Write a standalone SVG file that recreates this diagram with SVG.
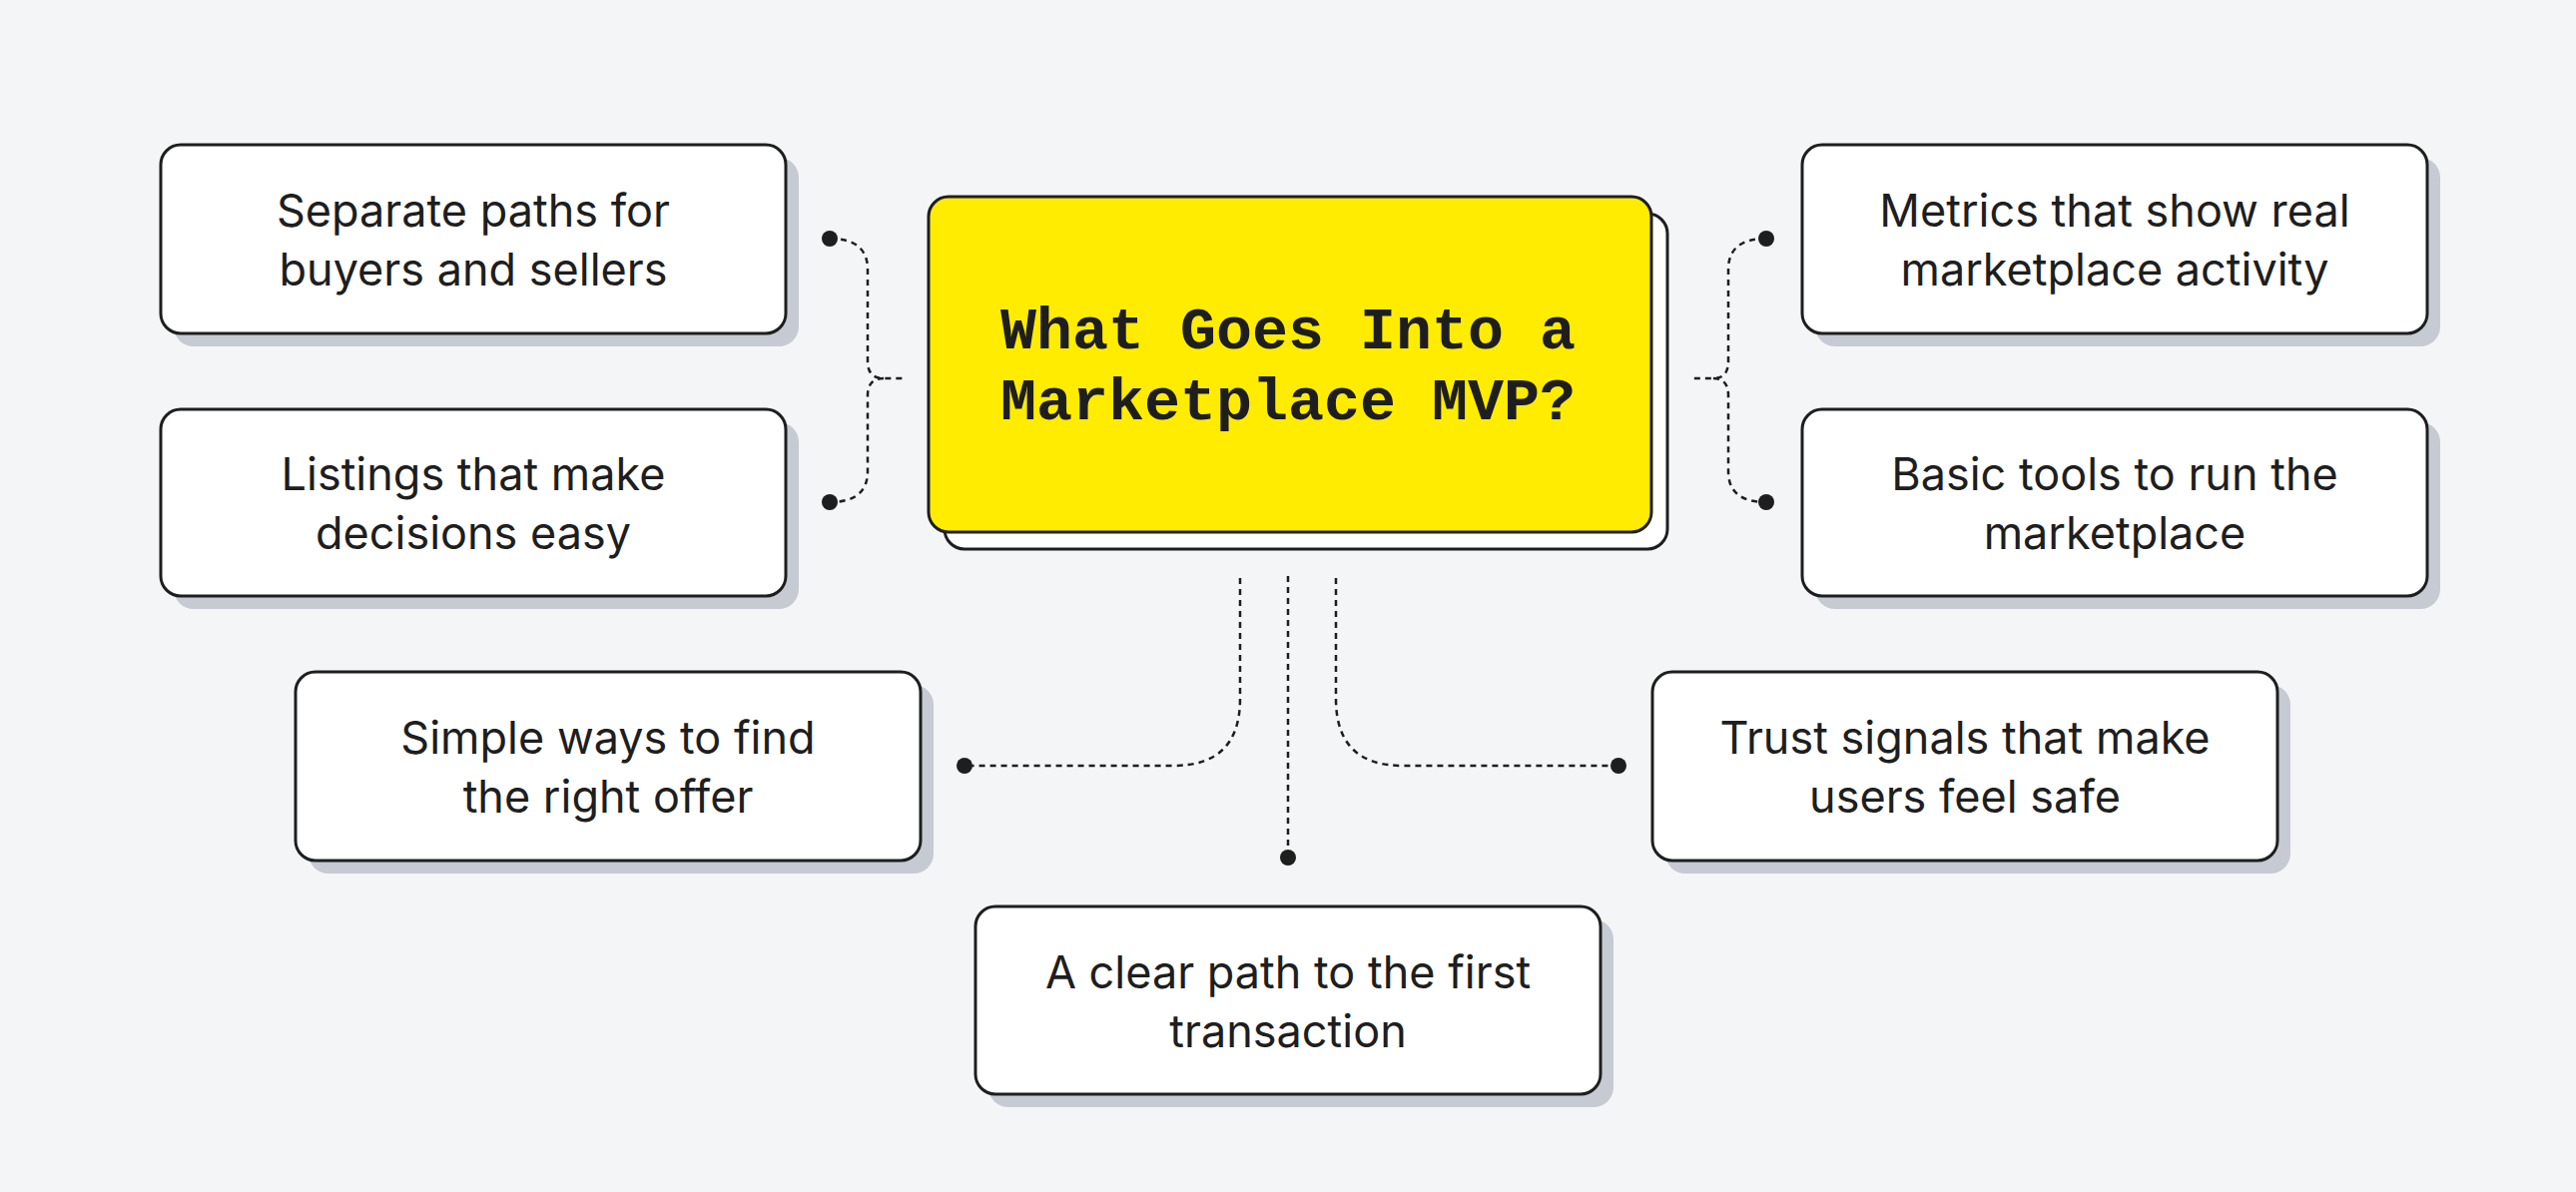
<svg xmlns="http://www.w3.org/2000/svg" width="2580" height="1194" viewBox="0 0 2580 1194">
<style>
.sh{fill:#c5cad3}
.bx{fill:#fff;stroke:#1e1e1e;stroke-width:3}
.t{font-family:Inter,"Liberation Sans",sans-serif;font-size:45px;fill:#1e1e1e;text-anchor:middle}
.ti{font-family:"Liberation Mono","DejaVu Sans Mono",monospace;font-weight:bold;font-size:60px;fill:#1e1e1e;text-anchor:middle}
.c{fill:none;stroke:#1e1e1e;stroke-width:2.5;stroke-dasharray:6 5}
.d{fill:#1e1e1e}
</style>
<rect width="2580" height="1194" fill="#f4f5f7"/>
<g id="center">
<rect x="946" y="214" width="724" height="336" rx="20" class="bx"/>
<rect x="930" y="197" width="724" height="336" rx="20" fill="#ffec00" stroke="#1e1e1e" stroke-width="3"/>
<text class="ti" x="1290" y="349">What Goes Into a</text>
<text class="ti" x="1290" y="420">Marketplace MVP?</text>
</g>
<g id="n1"><rect x="174" y="158" width="626" height="189" rx="20" class="sh"/><rect x="161" y="145" width="626" height="189" rx="20" class="bx"/>
<text class="t" x="474" y="227">Separate paths for</text><text class="t" x="474" y="286">buyers and sellers</text></g>
<g id="n2"><rect x="174" y="423" width="626" height="187" rx="20" class="sh"/><rect x="161" y="410" width="626" height="187" rx="20" class="bx"/>
<text class="t" x="474" y="491">Listings that make</text><text class="t" x="474" y="550">decisions easy</text></g>
<g id="n3"><rect x="1818" y="158" width="626" height="189" rx="20" class="sh"/><rect x="1805" y="145" width="626" height="189" rx="20" class="bx"/>
<text class="t" x="2118" y="227">Metrics that show real</text><text class="t" x="2118" y="286">marketplace activity</text></g>
<g id="n4"><rect x="1818" y="423" width="626" height="187" rx="20" class="sh"/><rect x="1805" y="410" width="626" height="187" rx="20" class="bx"/>
<text class="t" x="2118" y="491">Basic tools to run the</text><text class="t" x="2118" y="550">marketplace</text></g>
<g id="n5"><rect x="309" y="686" width="626" height="189" rx="20" class="sh"/><rect x="296" y="673" width="626" height="189" rx="20" class="bx"/>
<text class="t" x="609" y="755">Simple ways to find</text><text class="t" x="609" y="814">the right offer</text></g>
<g id="n6"><rect x="1668" y="686" width="626" height="189" rx="20" class="sh"/><rect x="1655" y="673" width="626" height="189" rx="20" class="bx"/>
<text class="t" x="1968" y="755">Trust signals that make</text><text class="t" x="1968" y="814">users feel safe</text></g>
<g id="n7"><rect x="990" y="921" width="626" height="188" rx="20" class="sh"/><rect x="977" y="908" width="626" height="188" rx="20" class="bx"/>
<text class="t" x="1290" y="990">A clear path to the first</text><text class="t" x="1290" y="1049">transaction</text></g>
<g id="connectors">
<path class="c" d="M831 239 Q869 239 869 270 V362 Q869 379 885 379 H905 M885 379 Q869 379 869 396 V472 Q869 503 831 503"/>
<path class="c" d="M1769 239 Q1731 239 1731 270 V362 Q1731 379 1716 379 H1695 M1716 379 Q1731 379 1731 396 V472 Q1731 503 1769 503"/>
<path class="c" d="M1242 579 V700 Q1242 767 1175 767 H966"/>
<path class="c" d="M1338 579 V700 Q1338 767 1405 767 H1621"/>
<path class="c" d="M1290 577 V859"/>
<circle class="d" cx="831" cy="239" r="8"/><circle class="d" cx="831" cy="503" r="8"/>
<circle class="d" cx="1769" cy="239" r="8"/><circle class="d" cx="1769" cy="503" r="8"/>
<circle class="d" cx="966" cy="767" r="8"/><circle class="d" cx="1621" cy="767" r="8"/>
<circle class="d" cx="1290" cy="859" r="8"/>
</g>
</svg>
